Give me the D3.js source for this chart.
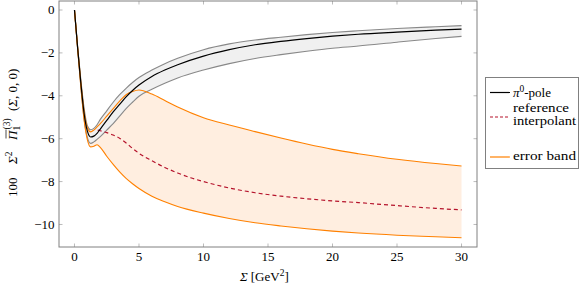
<!DOCTYPE html>
<html>
<head>
<meta charset="utf-8">
<script src="https://cdn.jsdelivr.net/npm/d3@7"></script>
<style>
  body { margin: 0; background: #fff; }
  svg text { font-family: "Liberation Serif", "DejaVu Serif", serif; }
</style>
</head>
<body>
<svg id="chart" width="585" height="286"></svg>
<script>
var sigma    = [0, 0.25, 0.5, 0.75, 1, 1.25, 1.5, 1.75, 2, 2.5, 3, 3.5, 4, 4.5, 5, 6, 7, 8, 10, 12, 14, 16, 18, 20, 22, 25, 28, 30];
var pole     = [0, -1.8, -3.45, -4.85, -5.65, -5.92, -5.88, -5.75, -5.55, -5.15, -4.75, -4.4, -4.05, -3.75, -3.5, -3.1, -2.8, -2.55, -2.15, -1.85, -1.62, -1.46, -1.33, -1.22, -1.13, -1.03, -0.94, -0.89];
var poleUp   = [0, -1.75, -3.3, -4.6, -5.4, -5.58, -5.52, -5.35, -5.1, -4.7, -4.3, -3.95, -3.65, -3.38, -3.15, -2.8, -2.5, -2.25, -1.85, -1.58, -1.4, -1.27, -1.15, -1.05, -0.97, -0.86, -0.78, -0.73];
var poleLo   = [0, -1.85, -3.6, -5.1, -5.95, -6.22, -6.15, -6.03, -5.9, -5.6, -5.3, -4.95, -4.6, -4.3, -4.02, -3.7, -3.42, -3.17, -2.8, -2.5, -2.26, -2.08, -1.92, -1.78, -1.68, -1.5, -1.33, -1.23];
var bandUp   = [0, -1.78, -3.4, -4.75, -5.5, -5.68, -5.6, -5.45, -5.3, -4.95, -4.6, -4.25, -3.95, -3.8, -3.73, -3.92, -4.22, -4.52, -5.02, -5.36, -5.67, -5.97, -6.25, -6.5, -6.7, -6.96, -7.16, -7.27];
var bandLo   = [0, -1.85, -3.62, -5.15, -6.05, -6.38, -6.35, -6.28, -6.4, -6.82, -7.2, -7.55, -7.85, -8.1, -8.32, -8.68, -8.94, -9.16, -9.47, -9.72, -9.92, -10.07, -10.2, -10.31, -10.4, -10.5, -10.57, -10.62];
var refSigma = [1.8, 2, 2.5, 3, 3.5, 4, 4.5, 5, 6, 7, 8, 9, 10, 12, 14, 16, 18, 20, 22, 25, 28, 30];
var refVals  = [-5.6, -5.63, -5.72, -5.83, -5.98, -6.2, -6.45, -6.68, -7.03, -7.34, -7.6, -7.82, -8.0, -8.3, -8.52, -8.68, -8.8, -8.9, -8.98, -9.12, -9.25, -9.32];
var xTicks = [0, 5, 10, 15, 20, 25, 30];
var yTicks = [0, -2, -4, -6, -8, -10];

var svg = d3.select("#chart");
var mL = 59, mR = 477, mT = 1, mB = 247;
var fs = "13px", fsSmall = "9.5px";

var x = d3.scaleLinear().domain([-1.2, 31.2]).range([mL, mR]);
var y = d3.scaleLinear().domain([-11.05, 0.42]).range([mB, mT]);

var fmt = function (d) { return d < 0 ? "\u2212" + Math.abs(d) : "" + d; };

function pts(xs, ys) { return xs.map(function (v, i) { return [v, ys[i]]; }); }

var line = d3.line().x(function (d) { return x(d[0]); }).y(function (d) { return y(d[1]); }).curve(d3.curveMonotoneX);
var area = d3.area()
	.x(function (d, i) { return x(sigma[i]); })
	.y0(function (d) { return y(d[0]); })
	.y1(function (d) { return y(d[1]); })
	.curve(d3.curveMonotoneX);

var plot = svg.append("g");

// bands
plot.append("path").datum(bandUp.map(function (v, i) { return [bandLo[i], v]; }))
	.attr("d", area).attr("fill", "#ffeee0");
plot.append("path").datum(poleUp.map(function (v, i) { return [poleLo[i], v]; }))
	.attr("d", area).attr("fill", "#f0f0f0");

plot.append("path").datum(pts(sigma, poleUp)).attr("d", line)
	.attr("fill", "none").attr("stroke", "#888").attr("stroke-width", 1.1);
plot.append("path").datum(pts(sigma, poleLo)).attr("d", line)
	.attr("fill", "none").attr("stroke", "#888").attr("stroke-width", 1.1);

plot.append("path").datum(pts(sigma, bandUp)).attr("d", line)
	.attr("fill", "none").attr("stroke", "#ff8000").attr("stroke-width", 1.1);
plot.append("path").datum(pts(sigma, bandLo)).attr("d", line)
	.attr("fill", "none").attr("stroke", "#ff8000").attr("stroke-width", 1.1);

plot.append("path").datum(pts(refSigma, refVals)).attr("d", line)
	.attr("fill", "none").attr("stroke", "#b5122b").attr("stroke-width", 1.2)
	.attr("stroke-dasharray", "4,3");

plot.append("path").datum(pts(sigma, pole)).attr("d", line)
	.attr("fill", "none").attr("stroke", "#000").attr("stroke-width", 1.2);

// ticks on all four sides, pointing inwards
var tickLen = 3.5, tickCol = "#bbb";
xTicks.forEach(function (t) {
	svg.append("line").attr("x1", x(t)).attr("x2", x(t)).attr("y1", mB).attr("y2", mB - tickLen).attr("stroke", tickCol);
	svg.append("line").attr("x1", x(t)).attr("x2", x(t)).attr("y1", mT).attr("y2", mT + tickLen).attr("stroke", tickCol);
	svg.append("text").attr("x", x(t)).attr("y", 261).attr("text-anchor", "middle")
		.attr("font-size", fs).text(t);
});
yTicks.forEach(function (t) {
	svg.append("line").attr("y1", y(t)).attr("y2", y(t)).attr("x1", mL).attr("x2", mL + tickLen).attr("stroke", tickCol);
	svg.append("line").attr("y1", y(t)).attr("y2", y(t)).attr("x1", mR).attr("x2", mR - tickLen).attr("stroke", tickCol);
	svg.append("text").attr("x", 54.5).attr("y", y(t) + 4.3).attr("text-anchor", "end")
		.attr("font-size", fs).text(fmt(t));
});

svg.append("rect").attr("x", mL).attr("y", mT).attr("width", mR - mL).attr("height", mB - mT)
	.attr("fill", "none").attr("stroke", "#808080").attr("stroke-width", 1);

// x label
var xl = svg.append("text").attr("x", 240).attr("y", 281).attr("font-size", fs);
xl.append("tspan").attr("font-style", "italic").text("\u03a3");
xl.append("tspan").attr("dx", 3).text("[GeV");
xl.append("tspan").attr("font-size", fsSmall).attr("dy", -5).text("2");
xl.append("tspan").attr("dy", 5).text("]");

// y label, laid out piece by piece along the rotated baseline
var yl = svg.append("g").attr("transform", "translate(16.5,197) rotate(-90)").attr("font-size", fs);
yl.append("text").attr("x", 0).attr("y", 0).text("100");
var s2 = yl.append("text").attr("x", 33).attr("y", 0);
s2.append("tspan").attr("font-style", "italic").text("\u03a3");
s2.append("tspan").attr("font-size", fsSmall).attr("dy", -5).text("2");
yl.append("text").attr("x", 57).attr("y", 0).attr("font-style", "italic").text("\u03a0");
yl.append("line").attr("x1", 58.5).attr("x2", 67.5).attr("y1", -10.5).attr("y2", -10.5)
	.attr("stroke", "#000").attr("stroke-width", 0.7);
yl.append("text").attr("x", 66.5).attr("y", 3).attr("font-size", fsSmall).text("1");
yl.append("text").attr("x", 67.5).attr("y", -7).attr("font-size", fsSmall).text("(3)");
var args = yl.append("text").attr("x", 86).attr("y", 0);
args.append("tspan").text("(");
args.append("tspan").attr("font-style", "italic").text("\u03a3");
args.append("tspan").text(", 0, 0)");

// legend
var lg = svg.append("g");
lg.append("rect").attr("x", 485.5).attr("y", 77.5).attr("width", 93).attr("height", 91)
	.attr("fill", "#fff").attr("stroke", "#808080");
var entries = [
	{ y: 92.5, stroke: "#000", dash: null },
	{ y: 117, stroke: "#b5122b", dash: "3,2" },
	{ y: 157, stroke: "#ff8000", dash: null }
];
entries.forEach(function (e) {
	lg.append("line").attr("x1", 490).attr("x2", 510).attr("y1", e.y).attr("y2", e.y)
		.attr("stroke", e.stroke).attr("stroke-width", 1.2).attr("stroke-dasharray", e.dash);
});
var t1 = lg.append("text").attr("x", 513).attr("y", 97).attr("font-size", fs);
t1.append("tspan").attr("font-style", "italic").text("\u03c0");
t1.append("tspan").attr("font-size", fsSmall).attr("dy", -5).text("0");
t1.append("tspan").attr("dy", 5).text("-pole");
lg.append("text").attr("x", 513).attr("y", 112).attr("font-size", fs)
	.attr("textLength", 56).attr("lengthAdjust", "spacingAndGlyphs").text("reference");
lg.append("text").attr("x", 513).attr("y", 125).attr("font-size", fs)
	.attr("textLength", 63).attr("lengthAdjust", "spacingAndGlyphs").text("interpolant");
lg.append("text").attr("x", 513).attr("y", 160).attr("font-size", fs)
	.attr("textLength", 63).attr("lengthAdjust", "spacingAndGlyphs").text("error band");
</script>
</body>
</html>
